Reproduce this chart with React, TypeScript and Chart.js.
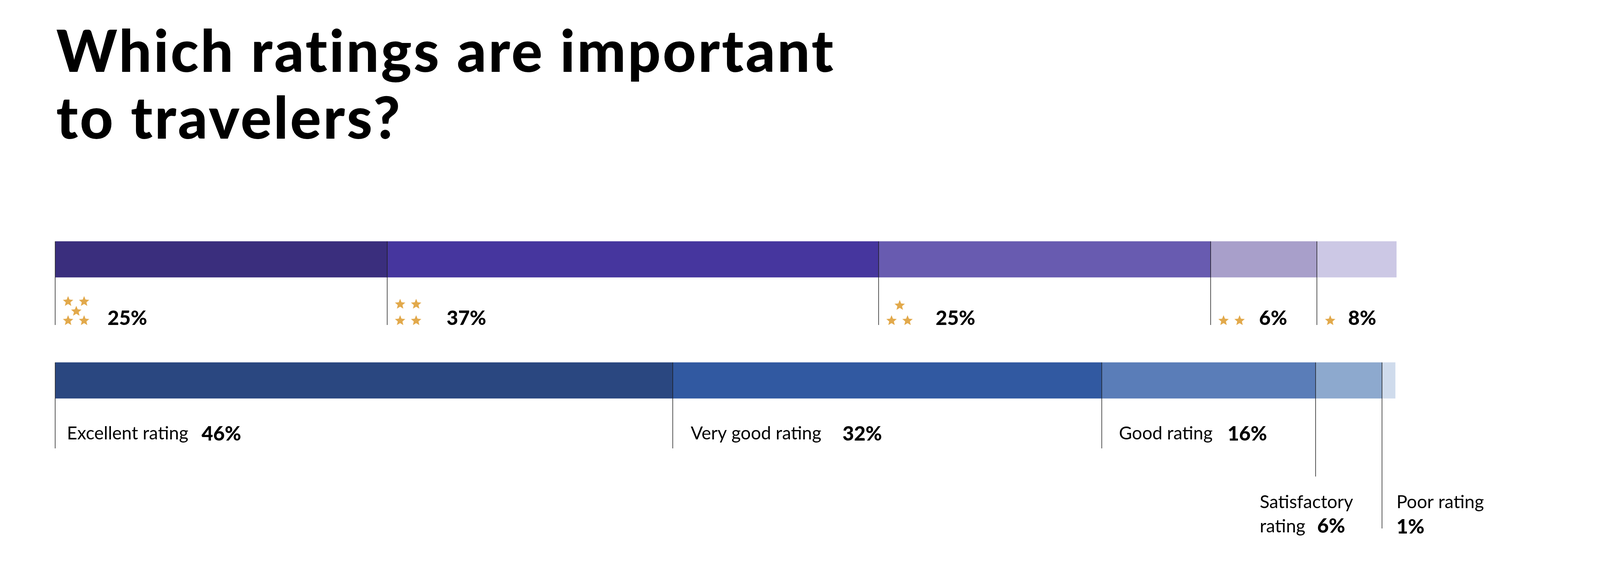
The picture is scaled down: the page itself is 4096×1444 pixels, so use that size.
import React, { useEffect, useRef } from "react";
import { Chart, registerables } from "chart.js";

Chart.register(...registerables);

// ---------- data ----------
const rowNames = ["Hotel class", "Guest rating"];
const starCounts = [5, 4, 3, 2, 1];
const starShares = [25, 37, 25, 8, 6]; // segment widths as drawn
const starLabels = ["25%", "37%", "25%", "6%", "8%"];
const ratingNames = ["Excellent rating", "Very good rating", "Good rating", "Satisfactory rating", "Poor rating"];
const ratingShares = [46.5, 32.3, 16.1, 5, 1]; // segment widths as drawn
const ratingLabels = ["46%", "32%", "16%", "6%", "1%"];
const titleLines = ["Which ratings are important", "to travelers?"];

// ---------- style ----------
const starColors = ["#3A2E7D", "#46369E", "#685BB0", "#A89FCA", "#CCC8E5"];
const ratingColors = ["#2A4780", "#3159A1", "#5A7DB8", "#8DA9CE", "#CFDBEC"];
const STAR_GOLD = "#E2A94B";
const X_MAX = 101;
const W = 4096;
const H = 1444;
const BAR_T = 92;
const PCT_FONT = "900 51px Lato";
const NAME_FONT = "46px Lato";

function drawStar(ctx: CanvasRenderingContext2D, cx: number, cy: number, R: number) {
  const r = R * 0.45;
  ctx.beginPath();
  for (let i = 0; i < 10; i++) {
    const rad = i % 2 === 0 ? R : r;
    const a = -Math.PI / 2 + (i * Math.PI) / 5;
    const px = cx + rad * Math.cos(a);
    const py = cy + rad * Math.sin(a);
    if (i === 0) ctx.moveTo(px, py);
    else ctx.lineTo(px, py);
  }
  ctx.closePath();
  ctx.fill();
}

// star arrangement per count: [dx, cy]
function starLayout(count: number): [number, number][] {
  const c1 = 33, c2 = 74, cm = 54, bottom = 821;
  if (count === 5) return [[c1, 772], [c2, 772], [cm, 797], [c1, bottom], [c2, bottom]];
  if (count === 4) return [[c1, 779], [c2, 779], [c1, bottom], [c2, bottom]];
  if (count === 3) return [[cm, 782], [c1, bottom], [c2, bottom]];
  if (count === 2) return [[c1, bottom], [c2, bottom]];
  return [[34, bottom]];
}

const topLabelOffsets = [134, 152, 146, 124, 80];
const bottomLineEnds = [1148, 1148, 1148, 1220, 1353];
const nameOffsets = [30, 46, 44];
const pctGaps = [34, 54, 38];

const annotate = {
  id: "annotate",
  afterDatasetsDraw(chart: any) {
    const ctx: CanvasRenderingContext2D = chart.ctx;
    const xs = chart.scales.x;
    const ys = chart.scales.y;
    const topBarTop = ys.getPixelForValue(0) - BAR_T / 2;
    const botBarTop = ys.getPixelForValue(1) - BAR_T / 2;
    ctx.save();
    ctx.textBaseline = "alphabetic";
    ctx.textAlign = "left";

    // top row: hotel stars
    let cum = 0;
    starShares.forEach((v, i) => {
      const px = xs.getPixelForValue(cum);
      cum += v;
      ctx.strokeStyle = "#1f1f1f";
      ctx.lineWidth = 1.5;
      ctx.beginPath();
      ctx.moveTo(px, topBarTop);
      ctx.lineTo(px, 832);
      ctx.stroke();
      ctx.fillStyle = STAR_GOLD;
      starLayout(starCounts[i]).forEach(([dx, cy]) => drawStar(ctx, px + dx, cy, 14));
      ctx.fillStyle = "#000";
      ctx.font = PCT_FONT;
      ctx.fillText(starLabels[i], px + topLabelOffsets[i], 832);
    });

    // bottom row: guest ratings
    cum = 0;
    ratingShares.forEach((v, i) => {
      const px = xs.getPixelForValue(cum);
      cum += v;
      ctx.strokeStyle = "#1f1f1f";
      ctx.lineWidth = 1.5;
      ctx.beginPath();
      ctx.moveTo(px, botBarTop);
      ctx.lineTo(px, bottomLineEnds[i]);
      ctx.stroke();
      ctx.fillStyle = "#000";
      if (i < 3) {
        ctx.font = NAME_FONT;
        const nx = px + nameOffsets[i];
        ctx.fillText(ratingNames[i], nx, 1125);
        const w = ctx.measureText(ratingNames[i]).width;
        ctx.font = PCT_FONT;
        ctx.fillText(ratingLabels[i], nx + w + pctGaps[i], 1128);
      } else if (i === 3) {
        const parts = ratingNames[i].split(" ");
        const nx = px - 143;
        ctx.font = NAME_FONT;
        ctx.fillText(parts[0], nx, 1301);
        ctx.fillText(parts[1], nx, 1363);
        ctx.font = PCT_FONT;
        ctx.fillText(ratingLabels[i], px + 4, 1364);
      } else {
        const nx = px + 37;
        ctx.font = NAME_FONT;
        ctx.fillText(ratingNames[i], nx, 1301);
        ctx.font = PCT_FONT;
        ctx.fillText(ratingLabels[i], nx, 1366);
      }
    });
    ctx.restore();
  },
};

export default function App() {
  const ref = useRef<HTMLCanvasElement | null>(null);
  useEffect(() => {
    document.body.style.margin = "0";
    document.body.style.overflow = "hidden";
    const canvas = ref.current;
    if (!canvas) return;
    const datasets = starShares.map((v, i) => ({
      label: `${starCounts[i]}★ / ${ratingNames[i]}`,
      data: [v, ratingShares[i]],
      backgroundColor: [starColors[i], ratingColors[i]],
      borderWidth: 0,
      barThickness: BAR_T,
    }));
    const left = 141.3;
    const perUnit = 34.0;
    const chart = new Chart(canvas, {
      type: "bar",
      data: { labels: rowNames, datasets },
      options: {
        indexAxis: "y",
        responsive: false,
        maintainAspectRatio: false,
        devicePixelRatio: 1,
        animation: false,
        layout: {
          padding: { left, right: W - left - X_MAX * perUnit, top: 509, bottom: H - 1129 },
        },
        plugins: { legend: { display: false }, tooltip: { enabled: false }, title: { display: false } },
        scales: {
          x: { stacked: true, min: 0, max: X_MAX, display: false },
          y: { stacked: true, display: false },
        },
      },
      plugins: [annotate],
    } as any);
    return () => chart.destroy();
  }, []);

  return (
    <div style={{ position: "fixed", left: 0, top: 0, width: W, height: H, background: "#fff", overflow: "hidden" }}>
      <div
        style={{
          position: "absolute",
          left: 144,
          top: 42,
          fontFamily: "Lato",
          fontWeight: 900,
          fontSize: 148,
          letterSpacing: "5px",
          lineHeight: "171px",
          color: "#000",
          whiteSpace: "nowrap",
          zIndex: 2,
        }}
      >
        {titleLines.map((t, i) => (
          <div key={i}>{t}</div>
        ))}
      </div>
      <canvas ref={ref} width={W} height={H} style={{ position: "absolute", left: 0, top: 0, width: W, height: H }} />
    </div>
  );
}
